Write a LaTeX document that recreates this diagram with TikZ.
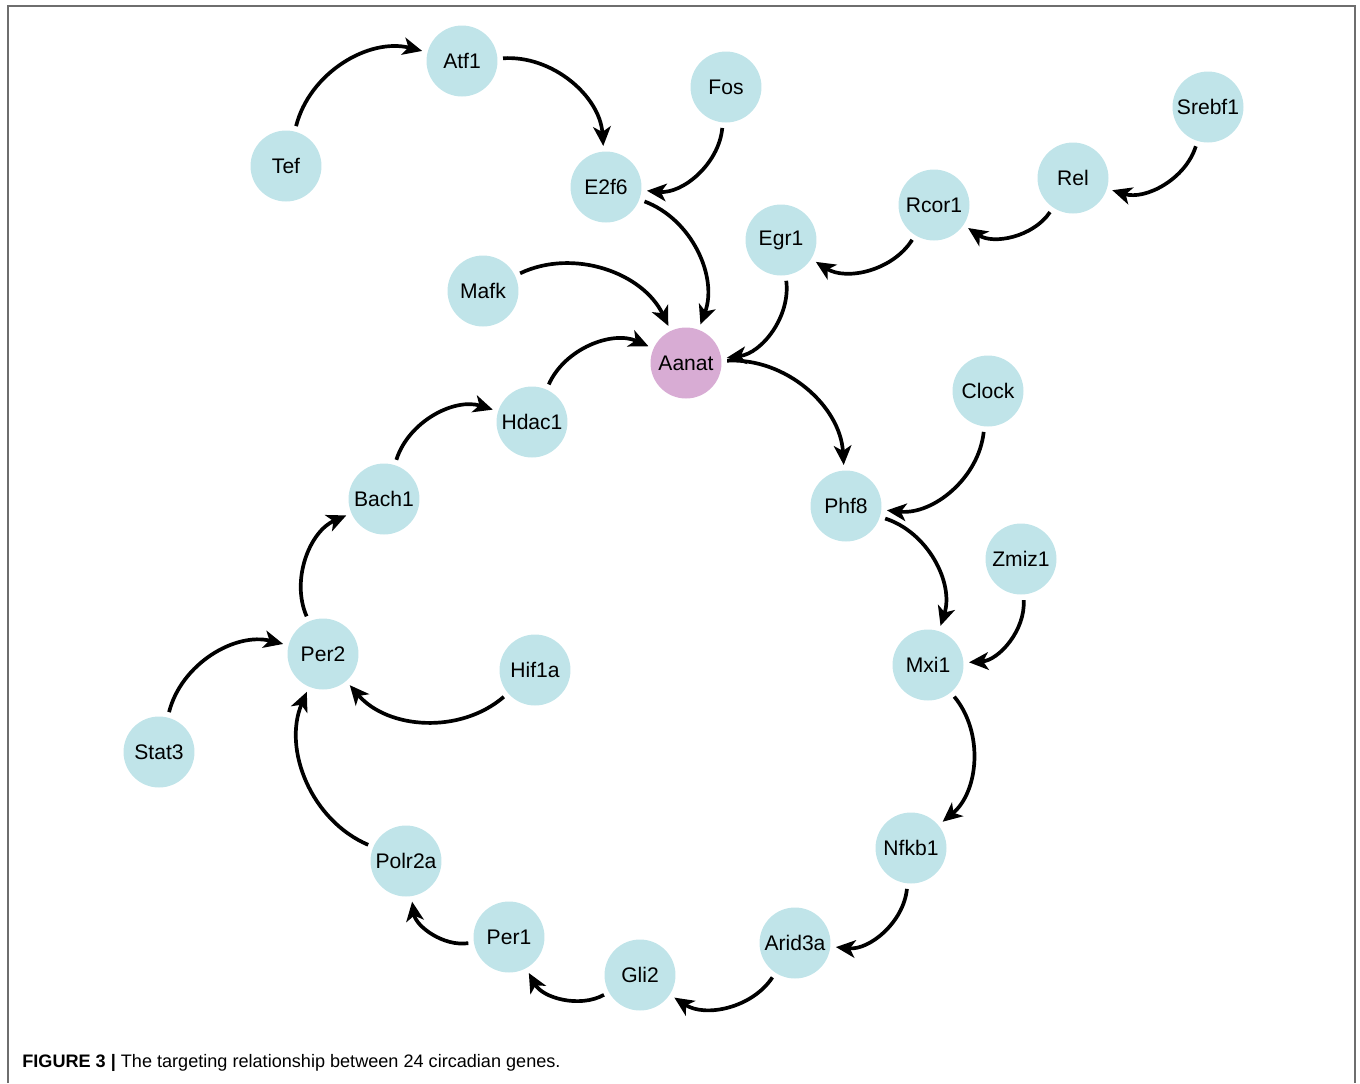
\documentclass[tikz,border=0pt]{standalone}
\usepackage{fontspec}
\setmainfont{Liberation Sans}
\usepackage{xcolor}
\usepackage{tikz}
\usetikzlibrary{arrows.meta}
\definecolor{genelight}{RGB}{192,228,233}
\definecolor{genepink}{RGB}{216,172,212}
\definecolor{framegray}{RGB}{110,110,110}
\tikzset{
  gene/.style={circle, minimum size=1.42cm, inner sep=0pt, fill=genelight,
    font=\fontsize{12}{14}\selectfont},
  hubgene/.style={gene, fill=genepink},
  arrow/.style={-{Stealth[length=11pt, width=10pt, inset=3pt]}, line width=2.1pt,
    shorten <=3pt, shorten >=3pt, bend left=45},
}
\begin{document}
\begin{tikzpicture}[x=0.02cm, y=-0.02cm]
  \useasboundingbox (0,0) rectangle (1360,1083);
  \draw[framegray, line width=1.1pt] (8,1083) -- (8,6) -- (1355,6) -- (1355,1083);
  \node[hubgene] (aanat) at (686,363) {Aanat};
  \node[gene] (atf1) at (462,61) {Atf1};
  \node[gene] (tef) at (286,166) {Tef};
  \node[gene] (fos) at (726,87) {Fos};
  \node[gene] (e2f6) at (606,187) {E2f6};
  \node[gene] (srebf1) at (1208,107) {Srebf1};
  \node[gene] (rel) at (1073,178) {Rel};
  \node[gene] (rcor1) at (934,205) {Rcor1};
  \node[gene] (egr1) at (781,240) {Egr1};
  \node[gene] (mafk) at (483,291) {Mafk};
  \node[gene] (clock) at (988,391) {Clock};
  \node[gene] (hdac1) at (532,422) {Hdac1};
  \node[gene] (bach1) at (384,499) {Bach1};
  \node[gene] (phf8) at (846,506) {Phf8};
  \node[gene] (zmiz1) at (1021,559) {Zmiz1};
  \node[gene] (per2) at (323,654) {Per2};
  \node[gene] (hif1a) at (535,670) {Hif1a};
  \node[gene] (mxi1) at (928,665) {Mxi1};
  \node[gene] (stat3) at (159,752) {Stat3};
  \node[gene] (nfkb1) at (911,848) {Nfkb1};
  \node[gene] (polr2a) at (406,861) {Polr2a};
  \node[gene] (per1) at (509,937) {Per1};
  \node[gene] (arid3a) at (795,943) {Arid3a};
  \node[gene] (gli2) at (640,975) {Gli2};
  \draw[arrow] (tef) to (atf1);
  \draw[arrow] (atf1) to (e2f6);
  \draw[arrow] (fos) to (e2f6);
  \draw[arrow] (e2f6) to (aanat);
  \draw[arrow] (srebf1) to (rel);
  \draw[arrow] (rel) to (rcor1);
  \draw[arrow] (rcor1) to (egr1);
  \draw[arrow] (egr1) to (aanat);
  \draw[arrow] (mafk) to (aanat);
  \draw[arrow] (hdac1) to (aanat);
  \draw[arrow] (aanat) to (phf8);
  \draw[arrow] (clock) to (phf8);
  \draw[arrow] (phf8) to (mxi1);
  \draw[arrow] (zmiz1) to (mxi1);
  \draw[arrow] (mxi1) to (nfkb1);
  \draw[arrow] (nfkb1) to (arid3a);
  \draw[arrow] (arid3a) to (gli2);
  \draw[arrow] (gli2) to (per1);
  \draw[arrow] (per1) to (polr2a);
  \draw[arrow] (polr2a) to (per2);
  \draw[arrow] (hif1a) to (per2);
  \draw[arrow] (stat3) to (per2);
  \draw[arrow] (per2) to (bach1);
  \draw[arrow] (bach1) to (hdac1);
  \node[anchor=west, inner sep=0pt, font=\fontsize{10.3}{12}\selectfont]
    (caption) at (22,1063) {\textbf{FIGURE 3 |} The targeting relationship between 24 circadian genes.};
\end{tikzpicture}
\end{document}
